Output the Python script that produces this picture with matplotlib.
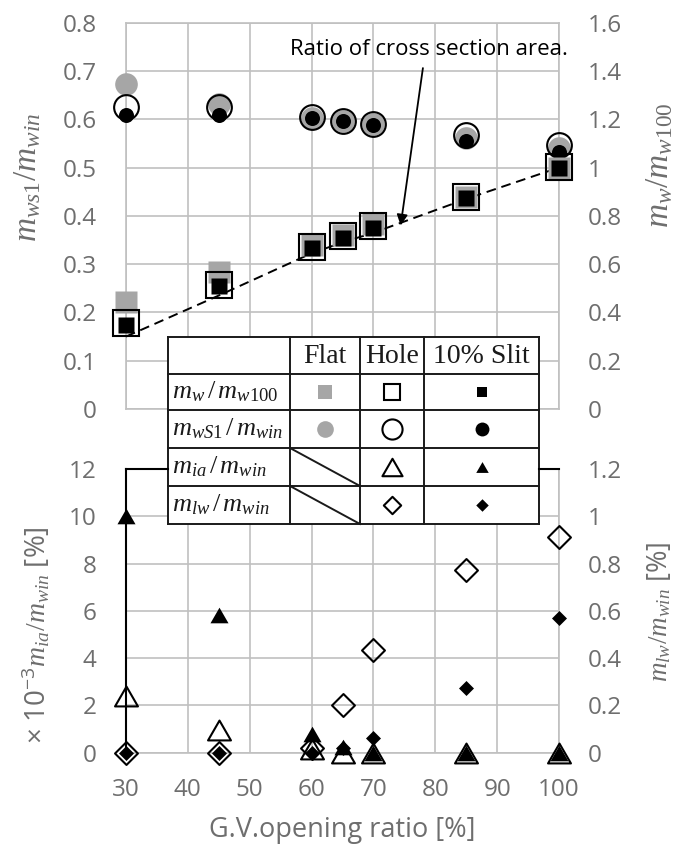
import matplotlib
matplotlib.use("Agg")
import matplotlib.pyplot as plt
from matplotlib.path import Path
from matplotlib.ticker import FuncFormatter

plt.rcParams["font.family"] = ["Open Sans", "DejaVu Sans"]
plt.rcParams["mathtext.fontset"] = "custom"
plt.rcParams["mathtext.it"] = "Liberation Serif:italic"
plt.rcParams["mathtext.rm"] = "Liberation Serif"
plt.rcParams["mathtext.sf"] = "Open Sans"

# ---------------- data ----------------
gv_opening = [30, 45, 60, 65, 70, 85, 100]

# upper panel, left axis: m_ws1 / m_win
ws1_flat = [0.674, 0.631, 0.603, 0.597, 0.590, 0.561, 0.540]
ws1_hole = [0.626, 0.625, 0.605, 0.597, 0.590, 0.567, 0.547]
ws1_slit = [0.609, 0.609, 0.603, 0.596, 0.588, 0.556, 0.533]

# upper panel, right axis: m_w / m_w100
w_flat = [0.444, 0.568, 0.680, 0.720, 0.765, 0.880, 1.000]
w_hole = [0.357, 0.513, 0.672, 0.716, 0.759, 0.879, 1.003]
w_slit = [0.348, 0.509, 0.667, 0.710, 0.750, 0.876, 0.998]
area_ratio = [0.30, 0.47, 0.645, 0.69, 0.73, 0.87, 1.00]

# lower panel, left axis: x10^-3 m_ia / m_win [%]
ia_hole = [2.4, 0.96, 0.15, 0.0, 0.0, 0.0, 0.0]
ia_slit = [10.0, 5.82, 0.8, 0.25, 0.0, 0.0, 0.0]

# lower panel, right axis: m_lw / m_win [%]
lw_hole = [0.0, 0.0, 0.02, 0.20, 0.434, 0.773, 0.914]
lw_slit = [0.0, 0.0, 0.0, 0.02, 0.062, 0.272, 0.568]

top_left_ticks = [0, 0.1, 0.2, 0.3, 0.4, 0.5, 0.6, 0.7, 0.8]
top_right_ticks = [0, 0.2, 0.4, 0.6, 0.8, 1.0, 1.2, 1.4, 1.6]
bot_left_ticks = [0, 2, 4, 6, 8, 10, 12]
bot_right_ticks = [0, 0.2, 0.4, 0.6, 0.8, 1.0, 1.2]
x_ticks = [30, 40, 50, 60, 70, 80, 90, 100]

# ---------------- style ----------------
W, H = 677, 848
TXT = "#6e6e6e"
GRID = "#c0c0c0"
FLAT = "#a6a6a6"
TICK_FS = 17.5

TRI = Path([(-1, -0.866), (1, -0.866), (0, 0.866), (-1, -0.866)],
           [Path.MOVETO, Path.LINETO, Path.LINETO, Path.CLOSEPOLY])
DIA = Path([(0, 1), (1, 0), (0, -1), (-1, 0), (0, 1)],
           [Path.MOVETO, Path.LINETO, Path.LINETO, Path.LINETO, Path.CLOSEPOLY])

fig = plt.figure(figsize=(W / 100, H / 100), dpi=100)


def px_rect(x0, y0, x1, y1):
    return [x0 / W, 1 - y1 / H, (x1 - x0) / W, (y1 - y0) / H]


def fmt(v, _pos=None):
    return f"{round(v, 2):g}"


def style_axis(ax, twin, ylim_l, ylim_r, ticks_l, ticks_r):
    ax.set_xlim(30, 100)
    ax.set_ylim(*ylim_l)
    twin.set_ylim(*ylim_r)
    ax.set_xticks(x_ticks)
    ax.set_yticks(ticks_l)
    twin.set_yticks(ticks_r)
    ax.yaxis.set_major_formatter(FuncFormatter(fmt))
    twin.yaxis.set_major_formatter(FuncFormatter(fmt))
    ax.grid(True, color=GRID, lw=1.2)
    ax.set_axisbelow(True)
    for a in (ax, twin):
        a.tick_params(length=0, labelsize=TICK_FS, labelcolor=TXT)
        for s in a.spines.values():
            s.set_color(GRID)
            s.set_linewidth(1.2)
            s.set_zorder(1)
    for s in twin.spines.values():
        s.set_visible(False)
    ax.tick_params(axis="y", pad=21)
    twin.tick_params(axis="y", pad=21)
    ax.tick_params(axis="x", pad=18)


# ---------------- upper panel ----------------
ax_top = fig.add_axes(px_rect(126, 22.7, 559, 409))
ax_top_r = ax_top.twinx()
style_axis(ax_top, ax_top_r, (0, 0.8), (0, 1.6), top_left_ticks, top_right_ticks)
ax_top.tick_params(axis="x", labelbottom=False)

ax_top.plot(gv_opening, ws1_flat, ls="none", marker="o", ms=16.3, mfc=FLAT,
            mec="none", zorder=3, clip_on=False)
ax_top.plot(gv_opening, ws1_hole, ls="none", marker="o", ms=17.8, mfc="none",
            mec="black", mew=1.5, zorder=4, clip_on=False)
ax_top.plot(gv_opening, ws1_slit, ls="none", marker="o", ms=10.8, mfc="black",
            mec="none", zorder=5, clip_on=False)

ax_top_r.plot(gv_opening, area_ratio, color="black", lw=1.4, ls=(0, (5, 3)),
              zorder=2, clip_on=False)
ax_top_r.plot(gv_opening, w_flat, ls="none", marker="s", ms=16.3, mfc=FLAT,
              mec="none", zorder=3, clip_on=False)
ax_top_r.plot(gv_opening, w_hole, ls="none", marker="s", ms=18.7, mfc="none",
              mec="black", mew=1.5, zorder=4, clip_on=False)
ax_top_r.plot(gv_opening, w_slit, ls="none", marker="s", ms=11.5, mfc="black",
              mec="none", zorder=5, clip_on=False)

ax_top_r.text(78.9, 1.49, "Ratio of cross section area.", ha="center",
              va="center", fontsize=16, color="black", zorder=6)
ax_top_r.annotate("", xy=(74.4, 0.76), xytext=(78.0, 1.412),
                  arrowprops=dict(arrowstyle="-|>", color="black", lw=1.3,
                                  mutation_scale=16, shrinkA=0, shrinkB=0),
                  zorder=6)

# ---------------- lower panel ----------------
ax_bot = fig.add_axes(px_rect(126, 469, 559, 752.7))
ax_bot_r = ax_bot.twinx()
style_axis(ax_bot, ax_bot_r, (0, 12), (0, 1.2), bot_left_ticks, bot_right_ticks)
ax_bot.spines["left"].set_color("black")
ax_bot.spines["left"].set_linewidth(1.5)
ax_bot.spines["top"].set_visible(False)

ax_bot.plot(gv_opening, ia_hole, ls="none", marker=TRI, ms=16.5, mfc="none",
            mec="black", mew=1.5, zorder=3, clip_on=False)
ax_bot.plot(gv_opening, ia_slit, ls="none", marker=TRI, ms=13, mfc="black",
            mec="none", zorder=4, clip_on=False)
ax_bot_r.plot(gv_opening, lw_hole, ls="none", marker=DIA, ms=16.5, mfc="none",
              mec="black", mew=1.5, zorder=3, clip_on=False)
ax_bot_r.plot(gv_opening, lw_slit, ls="none", marker=DIA, ms=10.8, mfc="black",
              mec="none", zorder=4, clip_on=False)

# ---------------- axis titles ----------------
def ftext(x, y, s, **kw):
    fig.text(x / W, 1 - y / H, s, ha="center", va="center", color=TXT, **kw)


ftext(28, 177, r"$m_{ws1}/m_{win}$", rotation=90, fontsize=24)
ftext(660, 165, r"$m_{w}/m_{w100}$", rotation=90, fontsize=24)
ftext(37, 635, r"$\mathsf{\times\ 10^{-3}}m_{ia}/m_{win}$ [%]", rotation=90, fontsize=20)
ftext(660, 612, r"$m_{lw}/m_{win}$ [%]", rotation=90, fontsize=19.5)
ftext(342, 830, "G.V.opening ratio [%]", fontsize=19.5)

# ---------------- legend table ----------------
ov = fig.add_axes([0, 0, 1, 1], zorder=10)
ov.set_xlim(0, W)
ov.set_ylim(H, 0)
ov.axis("off")

cols = [168, 290, 360, 424, 539]
rows = [337, 374, 410, 448, 486, 524]
ov.add_patch(plt.Rectangle((cols[0], rows[0]), cols[-1] - cols[0],
                           rows[-1] - rows[0], facecolor="white",
                           edgecolor="none"))
for y in rows:
    ov.plot([cols[0], cols[-1]], [y, y], color="#1a1a1a", lw=1.4)
for x in cols:
    ov.plot([x, x], [rows[0], rows[-1]], color="#1a1a1a", lw=1.4)
for r in (3, 4):
    ov.plot([cols[1], cols[2]], [rows[r], rows[r + 1]], color="#1a1a1a", lw=1.4)

# connectors to the lower panel axes
ov.plot([126, cols[0]], [469, 469], color="black", lw=1.5)
ov.plot([cols[-1], 559], [469, 469], color="black", lw=1.5)

cx = [(cols[i] + cols[i + 1]) / 2 for i in range(4)]
cy = [(rows[i] + rows[i + 1]) / 2 for i in range(5)]

for name, xc in zip(["Flat", "Hole", "10% Slit"], cx[1:]):
    ov.text(xc, cy[0] + 1, name, ha="center", va="center", fontsize=20,
            family="Liberation Serif", color="#1a1a1a")

row_labels = [r"$m_w\,/\,m_{w100}$", r"$m_{wS1}\,/\,m_{win}$",
              r"$m_{ia}\,/\,m_{win}$", r"$m_{lw}\,/\,m_{win}$"]
for lab, yc in zip(row_labels, cy[1:]):
    ov.text(cols[0] + 4, yc, lab, ha="left", va="center", fontsize=19,
            color="#1a1a1a")

legend_marks = [
    # (row, col, marker, size, face, edge)
    (1, 1, "s", 9.4, FLAT, "none"),
    (1, 2, "s", 11.5, "none", "black"),
    (1, 3, "s", 7.5, "black", "none"),
    (2, 1, "o", 12.0, FLAT, "none"),
    (2, 2, "o", 14.5, "none", "black"),
    (2, 3, "o", 10.0, "black", "none"),
    (3, 2, TRI, 14.5, "none", "black"),
    (3, 3, TRI, 9.0, "black", "none"),
    (4, 2, DIA, 12.5, "none", "black"),
    (4, 3, DIA, 9.0, "black", "none"),
]
for r, c, m, s, fc, ec in legend_marks:
    ov.plot([cx[c]], [cy[r]], marker=m, ms=s, mfc=fc, mec=ec, mew=1.5,
            ls="none")

fig.savefig("out.png", dpi=100)
